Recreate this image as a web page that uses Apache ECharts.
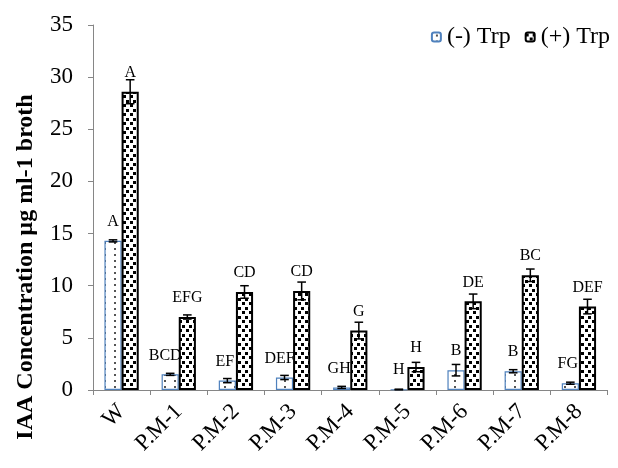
<!DOCTYPE html>
<html><head><meta charset="utf-8">
<script src="https://cdn.jsdelivr.net/npm/echarts@6/dist/echarts.min.js"></script>
<style>html,body{margin:0;padding:0;background:#fff}#c{width:618px;height:468px}</style>
</head><body><div id="c"></div>
<script>
const categories = ['W', 'P.M-1', 'P.M-2', 'P.M-3', 'P.M-4', 'P.M-5', 'P.M-6', 'P.M-7', 'P.M-8'];
const minusVals = [14.3, 1.5, 0.9, 1.2, 0.25, 0.05, 1.9, 1.8, 0.65];
const minusErr = [0.1, 0.1, 0.2, 0.2, 0.1, 0.03, 0.55, 0.15, 0.1];
const plusVals = [28.6, 7.0, 9.4, 9.5, 5.7, 2.2, 8.5, 11.0, 8.0];
const plusErr = [1.15, 0.2, 0.6, 0.85, 0.8, 0.45, 0.7, 0.6, 0.7];
const minusLetters = ['A', 'BCD', 'EF', 'DEF', 'GH', 'H', 'B', 'B', 'FG'];
const plusLetters = ['A', 'EFG', 'CD', 'CD', 'G', 'H', 'DE', 'BC', 'DEF'];
const seriesNames = ['(-) Trp', '(+) Trp'];
const yTitle = 'IAA Concentration µg ml-1 broth';

const FONT = "'Liberation Serif', 'Times New Roman', serif";

function makeTile(w, h, draw) {
  const c = document.createElement('canvas');
  c.width = w; c.height = h;
  const g = c.getContext('2d');
  g.fillStyle = '#fff'; g.fillRect(0, 0, w, h);
  draw(g);
  return c;
}
const plusTile = makeTile(7, 9, g => { g.fillStyle = '#000'; g.fillRect(0, 1, 3, 3); g.fillRect(4, 5, 3, 3); });
const minusTile = makeTile(10, 6, g => { g.fillStyle = '#555'; g.fillRect(4, 2, 2, 2); });

function errSeries(vals, errs, side) {
  return {
    type: 'custom', z: 5, silent: true,
    encode: { x: 0, y: 1 },
    data: vals.map((v, i) => [i, v, errs[i]]),
    renderItem: (params, api) => {
      const i = api.value(0), v = api.value(1), e = api.value(2);
      const band = api.size([1, 0])[0];
      const x = api.coord([i, v])[0] + side * band * 0.15;
      const yt = api.coord([i, v + e])[1];
      const yb = api.coord([i, Math.max(0, v - e)])[1];
      const cw = 4.3;
      const st = { stroke: '#000', lineWidth: 1.5 };
      return { type: 'group', children: [
        { type: 'line', shape: { x1: x, y1: yt, x2: x, y2: yb }, style: st },
        { type: 'line', shape: { x1: x - cw, y1: yt, x2: x + cw, y2: yt }, style: st },
        { type: 'line', shape: { x1: x - cw, y1: yb, x2: x + cw, y2: yb }, style: st }
      ]};
    }
  };
}

const chart = echarts.init(document.getElementById('c'), null, { renderer: 'canvas' });
chart.setOption({
  animation: false,
  backgroundColor: '#fff',
  grid: { left: 93, right: 10.5, top: 25, bottom: 78, containLabel: false },
  legend: {
    right: 3, top: 20, itemWidth: 9, itemHeight: 9, itemGap: 14,
    data: seriesNames,
    textStyle: { fontFamily: FONT, fontSize: 24, color: '#000', padding: [0, 0, 0, 1] }
  },
  xAxis: {
    type: 'category', data: categories,
    axisLine: { lineStyle: { color: '#868686', width: 1 } },
    axisTick: { show: true, alignWithLabel: false, length: 5, lineStyle: { color: '#868686' } },
    axisLabel: { rotate: 45, margin: 18, interval: 0, fontFamily: FONT, fontSize: 23, color: '#000' }
  },
  yAxis: {
    type: 'value', min: 0, max: 35, interval: 5,
    axisLine: { show: true, lineStyle: { color: '#868686', width: 1 } },
    axisTick: { show: true, length: 5, lineStyle: { color: '#868686' } },
    splitLine: { show: false },
    axisLabel: { margin: 20, fontFamily: FONT, fontSize: 23, color: '#000' }
  },
  graphic: [{
    type: 'text', x: 26, y: 267, rotation: Math.PI / 2,
    style: { text: yTitle, font: "bold 24px 'Liberation Serif', serif", fill: '#000', textAlign: 'center', textVerticalAlign: 'middle' }
  }],
  series: [
    {
      name: seriesNames[0], type: 'bar', barWidth: '30%', barGap: '0%',
      itemStyle: { color: { image: minusTile, repeat: 'repeat' }, borderColor: '#4F81BD', borderWidth: 1.2 },
      data: minusVals.map((v, i) => ({ value: v, label: { offset: [-(minusLetters[i].length - 1) * 2.5, 0] } })),
      label: { show: true, position: 'top', distance: 11, fontFamily: FONT, fontSize: 16, color: '#000',
        formatter: p => minusLetters[p.dataIndex] }
    },
    {
      name: seriesNames[1], type: 'bar', barWidth: '30%', barGap: '0%',
      itemStyle: { color: { image: plusTile, repeat: 'repeat' }, borderColor: '#000', borderWidth: 2 },
      data: plusVals,
      label: { show: true, position: 'top', distance: 11, fontFamily: FONT, fontSize: 16, color: '#000',
        formatter: p => plusLetters[p.dataIndex] }
    },
    errSeries(minusVals, minusErr, -1),
    errSeries(plusVals, plusErr, 1)
  ]
});
</script>
</body></html>
